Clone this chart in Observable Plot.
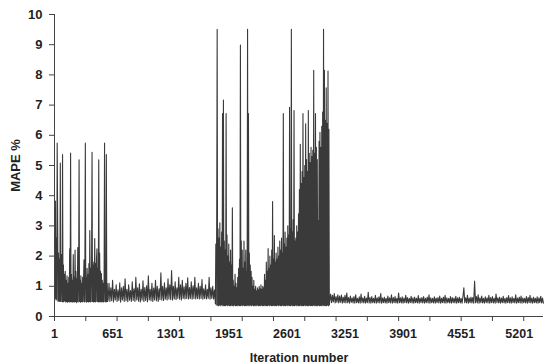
<!DOCTYPE html>
<html>
<head>
<meta charset="utf-8">
<script src="https://cdn.jsdelivr.net/npm/d3@7"></script>
<script src="https://cdn.jsdelivr.net/npm/@observablehq/plot@0.6"></script>
<style>
  html, body { margin: 0; padding: 0; background: #ffffff; }
  #chart { width: 550px; height: 364px; }
</style>
</head>
<body>
<div id="chart"></div>
<script>
// Tick values for the category axis
const xTickValues = [1, 351, 701, 1051, 1401, 1751, 2101, 2451, 2801, 3151, 3501, 3851, 4201, 4551, 4901, 5251];
const xLabelValues = [1, 651, 1301, 1951, 2601, 3251, 3901, 4551, 5201];
const yTickValues = [0, 1, 2, 3, 4, 5, 6, 7, 8, 9, 10];

// Series segments: first iteration, step between sampled iterations, MAPE % values
const segStart = [1, 601, 1801, 3081];
const segStep = [5, 10, 5, 10];

const mapeEarly = [
  1.0, 0.55, 3.82, 0.6, 2.6, 0.55, 5.74, 3.42, 0.5, 2.1,
  0.52, 1.9, 0.5, 5.08, 0.5, 1.6, 2.05, 0.5, 5.36, 0.48,
  1.7, 0.5, 1.4, 0.52, 1.5, 0.48, 1.2, 0.5, 1.35, 0.47,
  1.1, 0.5, 1.3, 0.48, 2.24, 0.5, 5.41, 0.48, 1.4, 0.5,
  1.2, 0.47, 2.05, 0.5, 1.3, 0.48, 2.2, 0.5, 1.5, 0.46,
  1.25, 0.5, 2.28, 0.48, 1.4, 5.19, 0.5, 1.2, 0.47, 1.35,
  0.5, 1.1, 0.48, 1.3, 0.5, 1.2, 1.88, 0.48, 1.5, 5.74,
  0.5, 1.3, 0.47, 1.6, 0.5, 1.4, 0.48, 1.75, 0.5, 2.85,
  0.48, 1.6, 0.5, 1.9, 5.44, 0.5, 1.7, 0.48, 1.8, 0.5,
  2.58, 0.48, 1.75, 0.5, 1.9, 2.24, 0.5, 1.6, 0.48, 5.19,
  0.5, 2.1, 0.48, 1.5, 0.5, 1.42, 0.48, 1.2, 0.5, 1.1,
  0.48, 1.3, 5.74, 0.5, 1.2, 0.48, 5.36, 0.5, 1.1, 0.5
];
const mapeCalm = [
  0.55, 1.1, 0.5, 0.95, 0.52, 1.2, 0.48, 0.9, 0.55, 1.05,
  0.5, 0.88, 0.53, 1.12, 0.47, 0.95, 0.55, 1.0, 0.5, 1.25,
  0.52, 0.9, 0.49, 1.05, 0.54, 0.86, 0.5, 1.15, 0.53, 0.92,
  0.5, 1.3, 0.55, 0.95, 0.51, 1.08, 0.48, 0.9, 0.54, 1.18,
  0.5, 0.96, 0.53, 1.02, 0.49, 1.35, 0.55, 0.9, 0.52, 1.1,
  0.5, 0.94, 0.55, 1.2, 0.52, 1.0, 0.5, 0.92, 0.56, 1.45,
  0.55, 1.0, 0.53, 1.12, 0.57, 0.95, 0.55, 1.25, 0.58, 1.05,
  0.56, 1.52, 0.55, 1.0, 0.58, 1.15, 0.56, 0.95, 0.6, 1.3,
  0.57, 1.05, 0.55, 1.2, 0.6, 0.98, 0.58, 1.1, 0.6, 1.28,
  0.58, 0.96, 0.6, 1.15, 0.57, 1.02, 0.6, 1.3, 0.58, 0.95,
  0.6, 1.1, 0.58, 1.0, 0.6, 1.22, 0.57, 0.92, 0.6, 1.05,
  0.58, 0.9, 0.6, 1.3, 0.57, 0.95, 0.6, 1.0, 0.58, 0.88
];
const mapeUnstable = [
  0.42, 2.4, 0.38, 3.3, 9.51, 0.37, 2.9, 0.36, 2.6, 0.38, 3.1, 0.36, 2.3, 0.4, 2.8, 0.36, 6.72, 0.38, 7.17, 0.36,
  2.5, 0.37, 2.2, 0.36, 6.72, 0.38, 2.7, 0.36, 2.0, 0.38, 2.4, 0.36, 1.8, 0.37, 2.2, 0.36, 1.7, 0.38, 3.6, 0.36,
  1.2, 0.36, 1.0, 0.38, 1.4, 0.36, 1.1, 0.37, 0.95, 0.36, 1.3, 0.38, 1.6, 0.36, 1.9, 0.37, 8.99, 0.36, 2.5, 0.38,
  2.2, 0.36, 1.6, 0.38, 2.5, 0.36, 1.8, 0.37, 2.2, 0.36, 1.5, 0.38, 9.51, 0.36, 6.72, 0.38, 2.1, 0.36, 1.7, 0.38,
  1.5, 0.36, 1.3, 0.38, 1.0, 0.36, 1.2, 0.37, 0.9, 0.36, 1.0, 0.38, 0.85, 0.36, 0.95, 0.38, 0.88, 0.36, 1.0, 0.37,
  0.92, 0.36, 1.05, 0.38, 0.9, 0.36, 1.0, 0.37, 0.95, 0.36, 1.4, 0.38, 1.2, 0.36, 1.8, 0.37, 1.5, 0.36, 2.25, 0.38,
  1.6, 0.36, 2.0, 0.38, 1.7, 0.36, 2.2, 0.37, 3.81, 0.36, 1.9, 0.38, 2.68, 0.36, 1.8, 0.37, 2.1, 0.36, 1.9, 0.38,
  2.3, 0.36, 2.0, 0.38, 2.5, 0.36, 2.2, 0.37, 2.6, 0.36, 2.1, 0.38, 6.72, 0.36, 2.4, 0.37, 2.8, 0.36, 2.3, 0.38,
  2.6, 0.36, 3.0, 0.38, 2.7, 0.36, 6.93, 0.37, 2.9, 0.36, 9.51, 0.38, 2.8, 0.36, 3.2, 0.37, 6.82, 0.36, 2.5, 0.38,
  2.6, 0.36, 3.0, 0.38, 2.8, 0.36, 3.4, 0.37, 4.2, 0.36, 5.7, 0.38, 4.4, 0.36, 4.8, 0.37, 6.72, 0.36, 4.6, 0.38,
  5.0, 0.36, 6.38, 0.38, 5.2, 0.36, 4.8, 0.37, 6.82, 0.36, 5.4, 0.38, 5.1, 0.36, 5.6, 0.37, 5.3, 0.36, 5.5, 0.38,
  8.15, 0.36, 5.4, 0.38, 6.72, 0.36, 5.6, 0.37, 5.2, 0.36, 3.18, 0.38, 5.8, 0.36, 6.1, 0.37, 5.6, 0.36, 6.3, 0.38,
  6.77, 0.36, 9.51, 0.38, 8.15, 0.36, 6.5, 0.37, 7.57, 0.36, 6.4, 0.38, 8.13, 0.36, 6.2, 0.38
];
const mapeStable = [
  0.52, 0.74, 0.46, 0.7, 0.48, 0.76, 0.45, 0.66, 0.47, 0.72,
  0.45, 0.68, 0.47, 0.71, 0.44, 0.64, 0.46, 0.7, 0.45, 0.78,
  0.46, 0.63, 0.44, 0.68, 0.47, 0.62, 0.45, 0.66, 0.44, 0.72,
  0.46, 0.6, 0.45, 0.65, 0.44, 0.74, 0.46, 0.62, 0.45, 0.67,
  0.44, 0.61, 0.46, 0.8, 0.45, 0.63, 0.44, 0.66, 0.46, 0.6,
  0.45, 0.7, 0.44, 0.62, 0.46, 0.65, 0.45, 0.76, 0.44, 0.61,
  0.46, 0.64, 0.45, 0.6, 0.44, 0.68, 0.46, 0.62, 0.45, 0.72,
  0.44, 0.63, 0.46, 0.66, 0.45, 0.6, 0.44, 0.78, 0.46, 0.62,
  0.45, 0.65, 0.44, 0.61, 0.46, 0.7, 0.45, 0.63, 0.44, 0.6,
  0.46, 0.67, 0.45, 0.62, 0.44, 0.64, 0.46, 0.6, 0.45, 0.69,
  0.44, 0.61, 0.46, 0.63, 0.45, 0.66, 0.44, 0.6, 0.46, 0.64,
  0.45, 0.72, 0.44, 0.62, 0.46, 0.6, 0.45, 0.65, 0.44, 0.61,
  0.46, 0.63, 0.45, 0.68, 0.44, 0.6, 0.46, 0.64, 0.45, 0.7,
  0.44, 0.62, 0.46, 0.6, 0.45, 0.66, 0.44, 0.63, 0.46, 0.61,
  0.45, 0.67, 0.44, 0.62, 0.46, 0.64, 0.45, 0.6, 0.44, 0.66,
  0.95, 0.46, 0.62, 0.45, 0.7, 0.44, 0.61, 0.46, 0.64, 0.45,
  0.63, 0.44, 1.17, 0.46, 0.66, 0.45, 0.72, 0.44, 0.62, 0.46,
  0.68, 0.45, 0.6, 0.44, 0.65, 0.46, 0.62, 0.45, 0.7, 0.44,
  0.63, 0.46, 0.66, 0.45, 0.6, 0.44, 0.74, 0.46, 0.62, 0.45,
  0.64, 0.44, 0.61, 0.46, 0.67, 0.45, 0.6, 0.44, 0.63, 0.46,
  0.69, 0.45, 0.62, 0.44, 0.65, 0.46, 0.6, 0.45, 0.72, 0.44,
  0.61, 0.46, 0.64, 0.45, 0.68, 0.44, 0.62, 0.46, 0.6, 0.45,
  0.66, 0.44, 0.63, 0.46, 0.7, 0.45, 0.61, 0.44, 0.64, 0.46,
  0.6, 0.45, 0.65, 0.44, 0.62, 0.46, 0.67, 0.45, 0.61, 0.44
];

const segValues = [mapeEarly, mapeCalm, mapeUnstable, mapeStable];
const data = segValues.flatMap((vals, s) =>
  vals.map((v, i) => ({iter: segStart[s] + i * segStep[s], mape: v}))
);

const chart = Plot.plot({
  width: 550,
  height: 364,
  marginLeft: 54,
  marginRight: 7,
  marginTop: 14,
  marginBottom: 48,
  x: {domain: [1, 5472]},
  y: {domain: [0, 10]},
  style: {
    fontFamily: "'Liberation Sans', Arial, sans-serif",
    fontSize: "13px",
    fontWeight: "bold",
    color: "#1f1f1f",
    background: "#ffffff",
    overflow: "visible"
  },
  marks: [
    Plot.line(data, {x: "iter", y: "mape", stroke: "#3a3a3a", strokeWidth: 1.1}),
    Plot.ruleY([0], {stroke: "#444444", strokeWidth: 1}),
    Plot.ruleX([1], {stroke: "#444444", strokeWidth: 1}),
    Plot.axisY({
      ticks: yTickValues, tickSize: 5, tickPadding: 7, stroke: "#444444",
      label: "MAPE %", labelAnchor: "center", labelArrow: "none", labelOffset: 44
    }),
    Plot.axisX({
      ticks: xTickValues, tickSize: 5, stroke: "#444444",
      tickFormat: () => "", label: null
    }),
    Plot.axisX({
      ticks: xLabelValues, tickSize: 0, tickPadding: 13,
      tickFormat: d => String(d), fontSize: 12.5,
      label: "Iteration number", labelAnchor: "center", labelArrow: "none", labelOffset: 45
    })
  ]
});
document.getElementById("chart").appendChild(chart);
</script>
</body>
</html>
